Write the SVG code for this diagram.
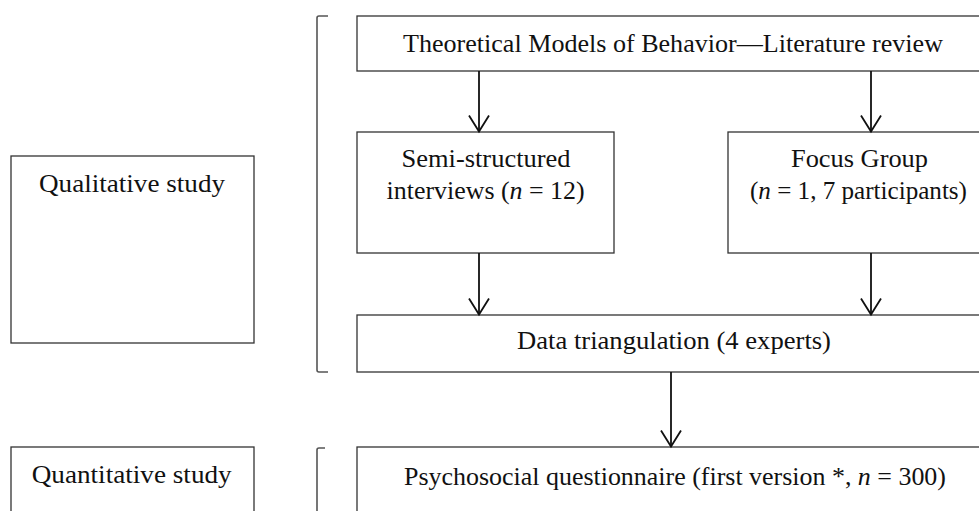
<svg xmlns="http://www.w3.org/2000/svg" width="979" height="511" viewBox="0 0 979 511">
<style>
.box{fill:#fff;stroke:#333;stroke-width:1.3}
.br{fill:none;stroke:#555;stroke-width:1.6}
.t{font-family:"Liberation Serif","Times New Roman",serif;font-size:25px;fill:#111;text-anchor:middle}
.i{font-style:italic}
.c{stroke:#111;stroke-width:1.8;fill:none}
</style>
<defs>
<marker id="ah" markerUnits="userSpaceOnUse" markerWidth="30" markerHeight="30" refX="0" refY="0" orient="auto" overflow="visible" viewBox="-20 -15 30 30">
<path d="M -16 -10 L 0 0 L -16 10" fill="none" stroke="#111" stroke-width="1.8"/>
</marker>
</defs>
<rect width="979" height="511" fill="#fff"/>
<g id="brackets">
<path class="br" d="M 328 16 L 319 16 Q 317 16 317 18 L 317 370 Q 317 372 319 372 L 328 372"/>
<path class="br" d="M 325 448 L 319 448 Q 317 448 317 450 L 317 520"/>
</g>
<g id="qualitative">
<rect class="box" x="11" y="156" width="243" height="187"/>
<text class="t" x="132" y="191.5" textLength="186" lengthAdjust="spacingAndGlyphs">Qualitative study</text>
</g>
<g id="quantitative">
<rect class="box" x="11" y="447" width="243" height="80"/>
<text class="t" x="131.7" y="483" textLength="200" lengthAdjust="spacingAndGlyphs">Quantitative study</text>
</g>
<g id="theory">
<rect class="box" x="357" y="16" width="633" height="55"/>
<text class="t" x="673" y="51.5" textLength="540" lengthAdjust="spacingAndGlyphs">Theoretical Models of Behavior—Literature review</text>
</g>
<g id="interviews">
<rect class="box" x="357" y="132" width="257" height="121"/>
<text class="t" x="486" y="166.5" textLength="169" lengthAdjust="spacingAndGlyphs">Semi-structured</text>
<text class="t" x="485.6" y="199" textLength="198" lengthAdjust="spacingAndGlyphs">interviews (<tspan class="i">n</tspan> = 12)</text>
</g>
<g id="focus">
<rect class="box" x="728" y="132" width="262" height="121"/>
<text class="t" x="859.5" y="166.5" textLength="137" lengthAdjust="spacingAndGlyphs">Focus Group</text>
<text class="t" x="858.5" y="199" textLength="217" lengthAdjust="spacingAndGlyphs">(<tspan class="i">n</tspan> = 1, 7 participants)</text>
</g>
<g id="triangulation">
<rect class="box" x="357" y="315" width="633" height="57"/>
<text class="t" x="674" y="349" textLength="314" lengthAdjust="spacingAndGlyphs">Data triangulation (4 experts)</text>
</g>
<g id="questionnaire">
<rect class="box" x="357" y="447" width="633" height="80"/>
<text class="t" x="675" y="485" textLength="542" lengthAdjust="spacingAndGlyphs">Psychosocial questionnaire (first version *, <tspan class="i">n</tspan> = 300)</text>
</g>
<g id="connectors">
<line class="c" x1="479" y1="71" x2="479" y2="131.5" marker-end="url(#ah)"/>
<line class="c" x1="871" y1="71" x2="871" y2="131.5" marker-end="url(#ah)"/>
<line class="c" x1="479" y1="253" x2="479" y2="314.5" marker-end="url(#ah)"/>
<line class="c" x1="871" y1="253" x2="871" y2="314.5" marker-end="url(#ah)"/>
<line class="c" x1="671" y1="372" x2="671" y2="446.5" marker-end="url(#ah)"/>
</g>
</svg>
